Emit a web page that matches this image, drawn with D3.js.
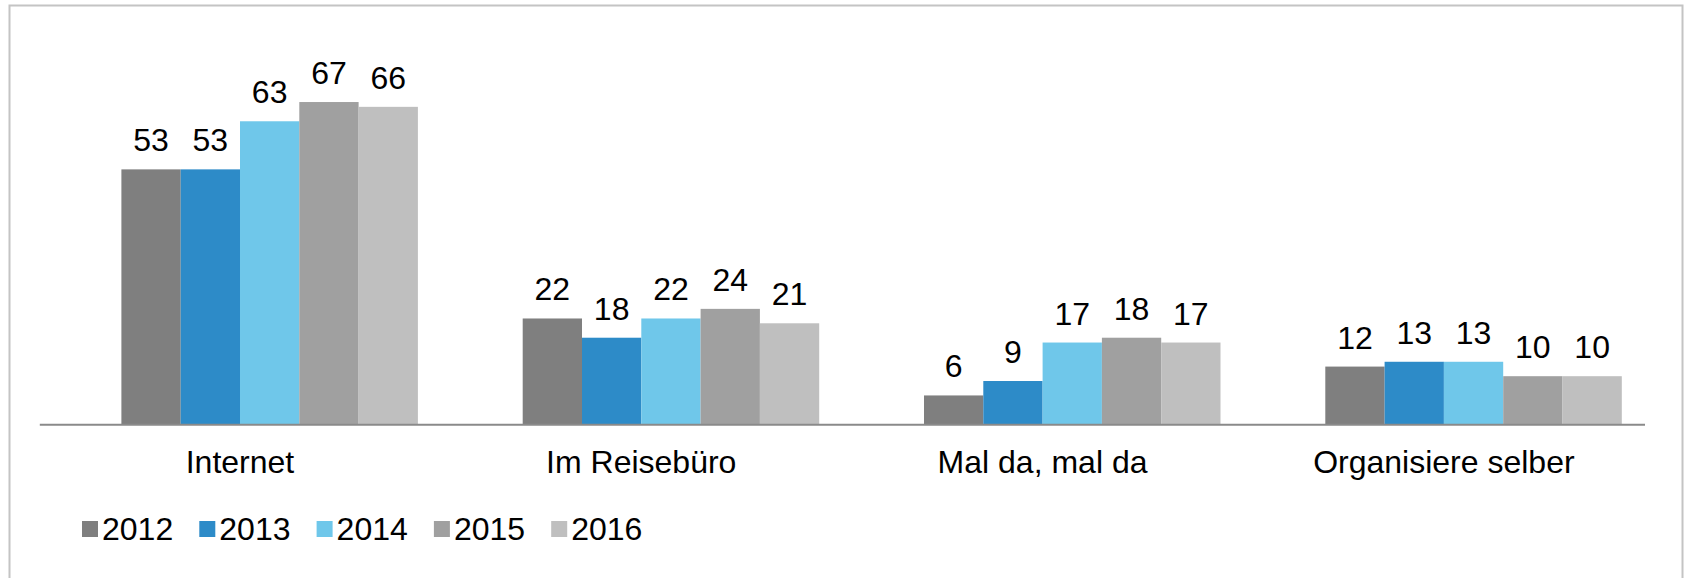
<!DOCTYPE html>
<html>
<head>
<meta charset="utf-8">
<script src="https://cdn.jsdelivr.net/npm/d3@7"></script>
<style>
  html, body { margin: 0; padding: 0; background: #fff; }
  svg { display: block; }
  text { font-family: "Liberation Sans", Arial, sans-serif; fill: #000; }
</style>
</head>
<body>
<svg id="chart" width="1684" height="578"></svg>
<script>
const categories = ["Internet", "Im Reisebüro", "Mal da, mal da", "Organisiere selber"];
const years = ["2012", "2013", "2014", "2015", "2016"];
const values2012 = [53, 22, 6, 12];
const values2013 = [53, 18, 9, 13];
const values2014 = [63, 22, 17, 13];
const values2015 = [67, 24, 18, 10];
const values2016 = [66, 21, 17, 10];
const seriesValues = [values2012, values2013, values2014, values2015, values2016];
const colors = ["#7f7f7f", "#2d8bc8", "#6fc7ea", "#a0a0a0", "#bfbfbf"];

const svg = d3.select("#chart");

// frame
svg.append("rect")
  .attr("x", 9.5).attr("y", 5.5)
  .attr("width", 1673).attr("height", 600)
  .attr("fill", "none").attr("stroke", "#c4c4c4").attr("stroke-width", 2);

const axisY = 424.3;
const x0 = d3.scaleBand().domain(categories).range([39.3, 1644.5]).padding(0);
const x1 = d3.scaleBand().domain(years).range([82.1, 378.6]).padding(0);
const y = d3.scaleLinear().domain([0, 70]).range([axisY, axisY - 70 * 4.81]);

const fontSize = 32;

const groups = svg.append("g").selectAll("g")
  .data(categories)
  .join("g")
  .attr("transform", d => `translate(${x0(d)},0)`);

groups.selectAll("rect")
  .data((c, ci) => years.map((yr, si) => ({ yr, v: seriesValues[si][ci], si })))
  .join("rect")
  .attr("x", d => x1(d.yr))
  .attr("y", d => y(d.v))
  .attr("width", x1.bandwidth())
  .attr("height", d => y(0) - y(d.v))
  .attr("fill", d => colors[d.si]);

groups.selectAll("text.val")
  .data((c, ci) => years.map((yr, si) => ({ yr, v: seriesValues[si][ci], si })))
  .join("text")
  .attr("class", "val")
  .attr("x", d => x1(d.yr) + x1.bandwidth() / 2)
  .attr("y", d => y(d.v) - 18)
  .attr("text-anchor", "middle")
  .style("font-size", fontSize + "px")
  .text(d => d.v);

// axis
const xAxis = d3.axisBottom(x0).tickSize(0).tickPadding(0);
const ax = svg.append("g").attr("transform", `translate(0,${axisY})`).call(xAxis);
ax.select(".domain").attr("stroke", "#8a8a8a").attr("stroke-width", 2);
ax.selectAll(".tick text")
  .attr("y", 49).attr("dy", null)
  .style("font-size", fontSize + "px")
  .style("font-family", '"Liberation Sans", Arial, sans-serif')
  .attr("fill", "#000");

// legend
const legendX = d3.scaleBand().domain(years).range([82, 82 + 5 * 117.3]);
const leg = svg.append("g").selectAll("g").data(years).join("g")
  .attr("transform", d => `translate(${legendX(d)},0)`);
leg.append("rect")
  .attr("x", 0).attr("y", 521)
  .attr("width", 16).attr("height", 16)
  .attr("fill", (d, i) => colors[i]);
leg.append("text")
  .attr("x", 20).attr("y", 540)
  .style("font-size", fontSize + "px")
  .text(d => d);
</script>
</body>
</html>
